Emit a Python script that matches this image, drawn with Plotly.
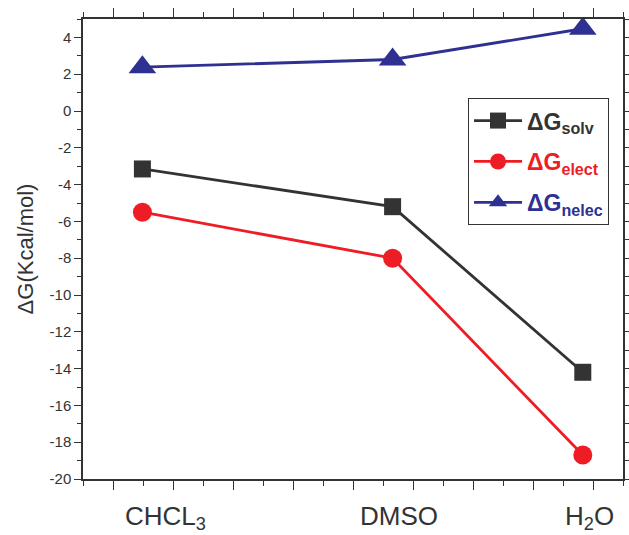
import plotly.graph_objects as go

solvents = ["CHCL<sub>3</sub>", "DMSO", "H<sub>2</sub>O"]
x_pos = [0.49, 4.66, 7.83]          # solvent positions on the numeric x scale
label_pos = [0.88, 4.76, 7.94]      # category label centres
dG_solv = [-3.15, -5.2, -14.2]
dG_elect = [-5.5, -8.0, -18.7]
dG_nelec = [2.38, 2.8, 4.47]
y_ticks = [-20, -18, -16, -14, -12, -10, -8, -6, -4, -2, 0, 2, 4]

series = [
    ("solv", dG_solv, "#333333", "square", 17),
    ("elect", dG_elect, "#ee1c25", "circle", 19),
    ("nelec", dG_nelec, "#2e3192", "triangle-up", 24),
]

fig = go.Figure()
for i, (sub, ys, col, sym, sz) in enumerate(series):
    fig.add_trace(go.Scatter(
        x=x_pos, y=ys, mode="lines+markers",
        line=dict(color=col, width=2.8),
        marker=dict(symbol=sym, size=sz, color=col),
        name=f'<span style="color:{col}"><b>ΔG<sub>{sub}</sub></b></span>',
        legendgroup=str(i),
    ))

axis_common = dict(
    showline=True, linecolor="#333", linewidth=1.5, mirror="allticks",
    ticks="outside", tickcolor="#333", tickwidth=1.2,
    showgrid=False, zeroline=False, automargin=False,
)

fig.update_xaxes(range=[-0.5, 8.5], dtick=1, tick0=0, ticklen=9, showticklabels=False,
                 minor=dict(dtick=0.5, tick0=0.5, ticklen=5, ticks="outside", tickcolor="#333"),
                 **axis_common)
fig.update_yaxes(range=[-20, 5], tickmode="array", tickvals=y_ticks,
                 ticktext=[str(v) for v in y_ticks], ticklen=7,
                 tickfont=dict(size=15, color="#333", family="Liberation Sans, Arial"),
                 minor=dict(dtick=1, tick0=0, ticklen=4, ticks="outside", tickcolor="#333"),
                 title=dict(text="ΔG(Kcal/mol)", font=dict(size=22, color="#333",
                            family="Liberation Sans, Arial"), standoff=10),
                 **axis_common)

for lab, xp in zip(solvents, label_pos):
    fig.add_annotation(x=xp, y=0, xref="x", yref="paper", yanchor="top",
                       text=lab, showarrow=False, yshift=-20,
                       font=dict(size=26, color="#333",
                                 family="Liberation Sans Narrow, Arial Narrow, Liberation Sans"))

fig.update_layout(
    width=629, height=535,
    margin=dict(l=83, r=6, t=19, b=56),
    paper_bgcolor="white", plot_bgcolor="white",
    showlegend=True,
    legend=dict(x=0.713, y=0.828, xanchor="left", yanchor="top",
                bordercolor="#333", borderwidth=1, bgcolor="white",
                font=dict(size=23, family="Liberation Sans, Arial"),
                itemwidth=48, tracegroupgap=8, traceorder="grouped"),
)

fig.write_html("out.html")
